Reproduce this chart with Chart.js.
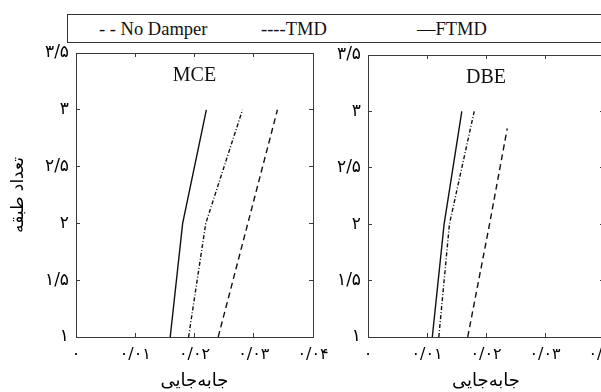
<!DOCTYPE html>
<html>
<head>
<meta charset="utf-8">
<script src="https://cdn.jsdelivr.net/npm/chart.js@4/dist/chart.umd.min.js"></script>
<style>
  html, body { margin: 0; padding: 0; width: 601px; height: 392px; overflow: hidden; background: #fff; }
  #legendBox {
    position: absolute; left: 67px; top: 14px; width: 560px; height: 27px;
    border: 1.5px solid #333; font-family: 'Liberation Serif', serif; font-size: 18.5px; color: #111;
  }
  #legendBox span { position: absolute; top: 4px; white-space: pre; }
  canvas { position: absolute; top: 0; }
</style>
</head>
<body>
<div id="legendBox">
  <span style="left:31px">- - No Damper</span>
  <span style="left:193px">----TMD</span>
  <span style="left:349px">—FTMD</span>
</div>
<canvas id="mceChart" width="340" height="392" style="left:0px"></canvas>
<canvas id="dbeChart" width="292" height="392" style="left:318px"></canvas>
<script>
// story levels (y) and peak displacement (x)
const stories = [1, 2, 3];
const mceNoDamper = [0.0240, 0.0290, 0.0340];
const mceTMD = [0.0190, 0.0219, 0.0281];
const mceFTMD = [0.0159, 0.0180, 0.0220];

// the DBE dashed line stops a bit below the 3rd story in the picture
const dbeNoDamperStories = [1, 2, 2.85];
const dbeNoDamper = [0.0169, 0.0206, 0.0236];
const dbeTMD = [0.0120, 0.0138, 0.0180];
const dbeFTMD = [0.0109, 0.0129, 0.0159];

const xTickLabels = ['۰', '۰/۰۱', '۰/۰۲', '۰/۰۳', '۰/۰۴'];
const yTickLabels = ['۱', '۱/۵', '۲', '۲/۵', '۳', '۳/۵'];

const xTitle = 'جابه\u200cجایی';
const yTitle = 'تعداد طبقه';

const persianFont = 'DejaVu Sans';
const lineColor = '#111';
const axisColor = '#3a3a3a';

function toPoints(xs, ys) {
    return xs.map((x, i) => ({ x: x, y: ys[i] }));
}

function makeDatasets(noDamper, noDamperY, tmd, ftmd) {
    return [
        { label: 'No Damper', data: toPoints(noDamper, noDamperY), borderDash: [6, 4] },
        { label: 'TMD', data: toPoints(tmd, stories), borderDash: [4, 2, 1, 2] },
        { label: 'FTMD', data: toPoints(ftmd, stories), borderDash: [] },
    ].map((d) => Object.assign(d, {
        showLine: true,
        borderColor: lineColor,
        borderWidth: 1.4,
        pointRadius: 0,
        tension: 0,
    }));
}

// draws the MCE / DBE label inside the plot box
const panelTitle = {
    id: 'panelTitle',
    afterDraw(chart, args, opts) {
        const area = chart.chartArea;
        const ctx = chart.ctx;
        ctx.save();
        ctx.font = '20px "Liberation Serif"';
        ctx.fillStyle = '#111';
        ctx.textAlign = 'center';
        ctx.textBaseline = 'middle';
        ctx.fillText(opts.text, (area.left + area.right) / 2, area.top + 23);
        ctx.restore();
    },
};

function tickGrid() {
    return { drawOnChartArea: false, tickLength: -4, color: axisColor, lineWidth: 1 };
}

function makeScales(yWidth, showYTitle) {
    const noPad = (s) => { s.paddingLeft = 0; s.paddingRight = 0; s.paddingTop = 0; s.paddingBottom = 0; };
    return {
        x: {
            type: 'linear', position: 'bottom', min: 0, max: 0.04,
            ticks: {
                stepSize: 0.01, autoSkip: false, maxRotation: 0, padding: 12,
                color: '#000', font: { family: persianFont, size: 16 },
                callback: (v, i) => xTickLabels[i],
            },
            grid: tickGrid(),
            border: { color: axisColor, width: 1 },
            title: {
                display: true, text: xTitle, color: '#000',
                font: { family: persianFont, size: 18 }, padding: { top: 0, bottom: 0 },
            },
            afterFit: (s) => { s.height = 55; noPad(s); },
        },
        x2: {
            type: 'linear', position: 'top', min: 0, max: 0.04,
            ticks: { stepSize: 0.01, display: false },
            grid: tickGrid(),
            border: { color: axisColor, width: 1 },
            afterFit: (s) => { s.height = 0; noPad(s); },
        },
        y: {
            type: 'linear', position: 'left', min: 1, max: 3.5,
            ticks: {
                stepSize: 0.5, autoSkip: false, padding: 11,
                color: '#000', font: { family: persianFont, size: 17 },
                callback: (v, i) => yTickLabels[i],
            },
            grid: tickGrid(),
            border: { color: axisColor, width: 1 },
            title: {
                display: showYTitle, text: yTitle, color: '#000',
                font: { family: persianFont, size: 17 }, padding: { top: 8, bottom: 0 },
            },
            afterFit: (s) => { s.width = yWidth; noPad(s); },
        },
        y2: {
            type: 'linear', position: 'right', min: 1, max: 3.5,
            ticks: { stepSize: 0.5, display: false },
            grid: tickGrid(),
            border: { color: axisColor, width: 1 },
            afterFit: (s) => { s.width = 0; noPad(s); },
        },
    };
}

function makeChart(canvasId, datasets, label, yWidth, showYTitle, padding) {
    const ctx = document.getElementById(canvasId).getContext('2d');
    return new Chart(ctx, {
        type: 'scatter',
        data: { datasets: datasets },
        options: {
            responsive: false,
            animation: false,
            devicePixelRatio: 1,
            layout: { padding: padding },
            plugins: {
                legend: { display: false },
                tooltip: { enabled: false },
                panelTitle: { text: label },
            },
            scales: makeScales(yWidth, showYTitle),
        },
        plugins: [panelTitle],
    });
}

makeChart('mceChart', makeDatasets(mceNoDamper, stories, mceTMD, mceFTMD), 'MCE', 76, true,
    { top: 53, right: 27, bottom: 0, left: 0 });
makeChart('dbeChart', makeDatasets(dbeNoDamper, dbeNoDamperStories, dbeTMD, dbeFTMD), 'DBE', 50, false,
    { top: 55, right: 6, bottom: 0, left: 0 });
</script>
</body>
</html>
